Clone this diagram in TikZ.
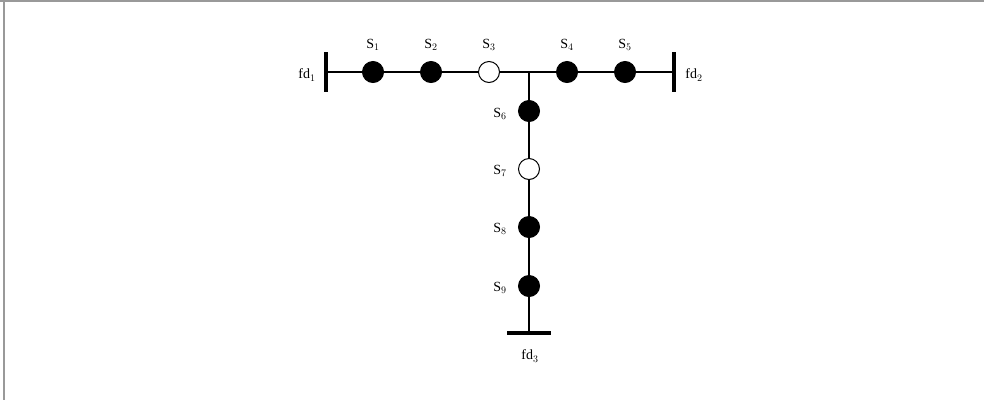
\documentclass[tikz,border=0pt]{standalone}
\usepackage{fontspec}
\setmainfont{Liberation Serif}
\usetikzlibrary{backgrounds}
\begin{document}
\begin{tikzpicture}[x=1pt,y=-1pt,
  sw/.style={circle,draw=black,line width=1pt,minimum size=21pt,inner sep=0pt},
  closed/.style={sw,fill=black},
  opened/.style={sw,fill=white},
  lbl/.style={font=\fontsize{14}{16}\selectfont,inner sep=0pt},
  wire/.style={line width=1.8pt},
  bar/.style={line width=3.5pt}]
\useasboundingbox (0,0) rectangle (984,400);
\draw[gray!80,line width=1.5pt] (0,1) -- (984,1);
\draw[gray!80,line width=1.5pt] (4,1) -- (4,400);
% bus ends
\coordinate (f1t) at (326,52); \coordinate (f1b) at (326,92);
\coordinate (f2t) at (674,52); \coordinate (f2b) at (674,92);
\coordinate (f3l) at (507,333); \coordinate (f3r) at (551,333);
\coordinate (f1) at (326,72); \coordinate (f2) at (674,72);
\coordinate (f3) at (529,333); \coordinate (j) at (529,72);
% switches
\node[closed] (s1) at (373,72) {};
\node[closed] (s2) at (431,72) {};
\node[opened] (s3) at (489,72) {};
\node[closed] (s4) at (567,72) {};
\node[closed] (s5) at (625,72) {};
\node[closed] (s6) at (529,111) {};
\node[opened] (s7) at (529,169) {};
\node[closed] (s8) at (529,227) {};
\node[closed] (s9) at (529,286) {};
% wires
\begin{scope}[on background layer]
\draw[wire] (f1) -- (s1.center) -- (s2.center) -- (s3.center) -- (j) -- (s4.center) -- (s5.center) -- (f2);
\draw[line width=1.5pt] (j) -- (s6.center) -- (s7.center) -- (s8.center) -- (s9.center) -- (f3);
\end{scope}
\draw[bar] (f1t) -- (f1b);
\draw[bar] (f2t) -- (f2b);
\draw[bar] (f3l) -- (f3r);
% labels
\node[lbl] (l1) at (373,45) {S$_1$};
\node[lbl] (l2) at (431,45) {S$_2$};
\node[lbl] (l3) at (489,45) {S$_3$};
\node[lbl] (l4) at (567,45) {S$_4$};
\node[lbl] (l5) at (625,45) {S$_5$};
\node[lbl] (l6) at (500,114) {S$_6$};
\node[lbl] (l7) at (500,171) {S$_7$};
\node[lbl] (l8) at (500,229) {S$_8$};
\node[lbl] (l9) at (500,288) {S$_9$};
\node[lbl] (lf1) at (307,75) {fd$_1$};
\node[lbl] (lf2) at (694,75) {fd$_2$};
\node[lbl] (lf3) at (530,356) {fd$_3$};
\end{tikzpicture}
\end{document}
